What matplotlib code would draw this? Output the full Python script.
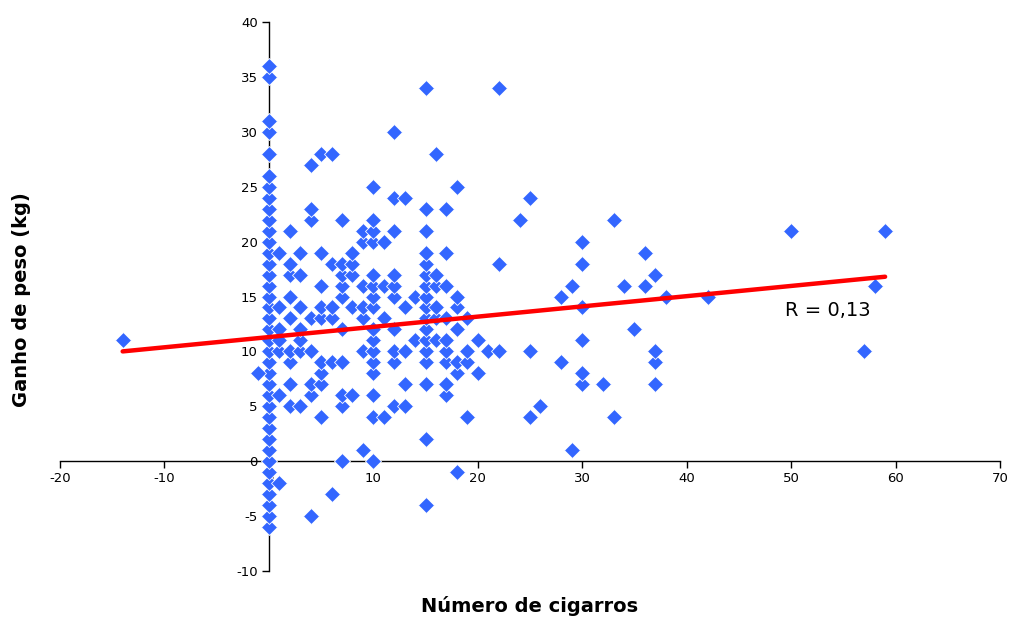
import numpy as np
import matplotlib
matplotlib.use("Agg")
import matplotlib.pyplot as plt

plt.rcParams["axes.unicode_minus"] = False

# non-smokers (x = 0): weight gain values
ganho_zero = list(range(-6, 27)) + [28, 30, 31, 35, 36]

# smokers: cigarettes per day vs weight gain, read row by row (by gain)
cigarros = [-14, -1, 1, 6, 4, 15, 18, 7, 10, 9, 29, 15,
            5, 10, 11, 19, 25, 33,
            2, 3, 7, 12, 13, 26,
            1, 4, 7, 8, 10, 17,
            2, 4, 5, 13, 15, 17, 30, 32, 37,
            5, 10, 18, 20, 30,
            2, 5, 6, 7, 10, 12, 15, 17, 18, 19, 28, 37,
            1, 2, 3, 4, 9, 10, 12, 13, 15, 17, 19, 21, 22, 25, 37, 57,
            1, 3, 10, 14, 15, 16, 17, 20, 30,
            1, 3, 7, 10, 12, 15, 18, 35,
            2, 4, 5, 6, 9, 11, 15, 16, 17, 19,
            1, 3, 5, 6, 8, 9, 10, 13, 15, 16, 18, 30,
            2, 7, 10, 12, 14, 15, 18, 28, 38, 42,
            5, 7, 9, 10, 11, 12, 15, 16, 17, 29, 34, 36, 58,
            2, 3, 7, 8, 10, 12, 15, 16, 37,
            2, 6, 7, 8, 15, 22, 30,
            1, 3, 5, 8, 15, 17, 36,
            9, 10, 11, 30,
            2, 9, 10, 12, 15, 50, 59,
            4, 7, 10, 24, 33,
            4, 15, 17,
            12, 13, 25,
            10, 18,
            4,
            5, 6, 16,
            12,
            15, 22]
ganho = [11, 8, -2, -3, -5, -4, -1, 0, 0, 1, 1, 2,
         4, 4, 4, 4, 4, 4,
         5, 5, 5, 5, 5, 5,
         6, 6, 6, 6, 6, 6,
         7, 7, 7, 7, 7, 7, 7, 7, 7,
         8, 8, 8, 8, 8,
         9, 9, 9, 9, 9, 9, 9, 9, 9, 9, 9, 9,
         10, 10, 10, 10, 10, 10, 10, 10, 10, 10, 10, 10, 10, 10, 10, 10,
         11, 11, 11, 11, 11, 11, 11, 11, 11,
         12, 12, 12, 12, 12, 12, 12, 12,
         13, 13, 13, 13, 13, 13, 13, 13, 13, 13,
         14, 14, 14, 14, 14, 14, 14, 14, 14, 14, 14, 14,
         15, 15, 15, 15, 15, 15, 15, 15, 15, 15,
         16, 16, 16, 16, 16, 16, 16, 16, 16, 16, 16, 16, 16,
         17, 17, 17, 17, 17, 17, 17, 17, 17,
         18, 18, 18, 18, 18, 18, 18,
         19, 19, 19, 19, 19, 19, 19,
         20, 20, 20, 20,
         21, 21, 21, 21, 21, 21, 21,
         22, 22, 22, 22, 22,
         23, 23, 23,
         24, 24, 24,
         25, 25,
         27,
         28, 28, 28,
         30,
         34, 34]

# trend line end points
trend_x = [-14, 59]
trend_y = [10.0, 16.8]
r_text = "R = 0,13"

x_ticks = list(range(-20, 71, 10))
y_ticks = list(range(-10, 41, 5))

all_x = np.array([0] * len(ganho_zero) + cigarros)
all_y = np.array(ganho_zero + ganho)

fig = plt.figure(figsize=(10.12, 6.22), dpi=100)
ax = fig.add_axes([60 / 1012, 1 - 571 / 622, 940 / 1012, 549 / 622])

ax.plot(all_x, all_y, linestyle="none", marker="D", markersize=8.5,
        markerfacecolor="#3366ff", markeredgecolor="white",
        markeredgewidth=0.6, zorder=3)
ax.plot(trend_x, trend_y, color="#ff0000", linewidth=3.2,
        solid_capstyle="round", zorder=4)
ax.text(53.5, 13.7, r_text, fontsize=14, ha="center", va="center", zorder=5)

ax.set_xlim(-20, 70)
ax.set_ylim(-10, 40)
ax.set_xticks(x_ticks)
ax.set_yticks(y_ticks)
ax.spines["left"].set_position(("data", 0))
ax.spines["bottom"].set_position(("data", 0))
ax.spines["top"].set_visible(False)
ax.spines["right"].set_visible(False)
for s in ("left", "bottom"):
    ax.spines[s].set_linewidth(1.0)
    ax.spines[s].set_zorder(2)
ax.tick_params(direction="out", length=5, width=1, labelsize=9.5, pad=3)

fig.text(22 / 1012, 1 - 300 / 622, "Ganho de peso (kg)", rotation=90,
         fontsize=14, fontweight="bold", ha="center", va="center")
fig.text(530 / 1012, 1 - 606 / 622, "Número de cigarros",
         fontsize=14, fontweight="bold", ha="center", va="center")

fig.savefig("out.png", dpi=100)
